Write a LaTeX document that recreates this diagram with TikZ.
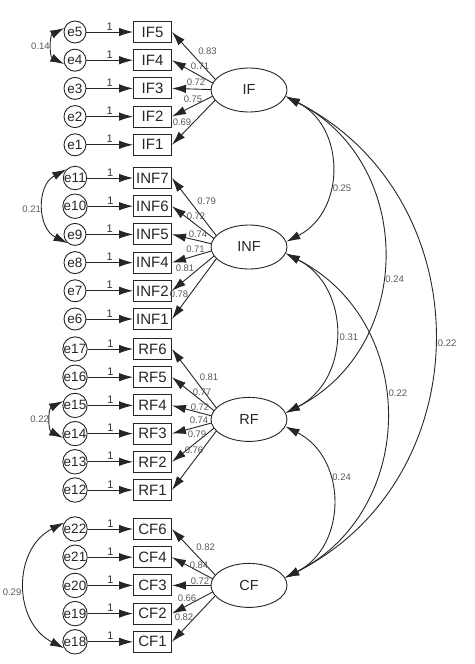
\documentclass[tikz,border=0pt]{standalone}
\usepackage{fontspec}
\setmainfont{Liberation Sans}
\usetikzlibrary{shapes.geometric, arrows.meta}

\begin{document}
\begin{tikzpicture}[x=1pt, y=1pt, node distance=28.2pt]
\tikzstyle{item} = [rectangle, minimum width=38pt, minimum height=21pt, inner sep=0pt, draw=black!85, line width=0.9pt, text=black!85, font=\fontsize{15}{15}\selectfont]
\tikzstyle{err} = [circle, minimum size=22pt, inner sep=0pt, draw=black!85, line width=0.9pt, text=black!85, font=\fontsize{13.5}{13.5}\selectfont]
\tikzstyle{factor} = [ellipse, minimum width=76pt, minimum height=44pt, inner sep=0pt, draw=black!85, fill=white, line width=0.9pt, text=black!85, font=\fontsize{14.5}{14.5}\selectfont]
\tikzstyle{arrow} = [line width=0.9pt, black!85, ->, >={Latex[length=14pt,width=8.5pt]}]
\tikzstyle{cov} = [line width=0.9pt, black!85, <->, >={Latex[length=14pt,width=8.5pt]}, looseness=1.18]
\tikzstyle{one} = [above, inner sep=1.5pt, text=black!80, font=\fontsize{11}{11}\selectfont]
\tikzstyle{coef} = [inner sep=0pt, text=black!65, font=\fontsize{9.5}{9.5}\selectfont]

\useasboundingbox (0,0) rectangle (474,-664);

%indicators
\node (IF5) [item] at (152.5,-32) {IF5};
\node (IF4) [item, below of=IF5] {IF4};
\node (IF3) [item, below of=IF4] {IF3};
\node (IF2) [item, below of=IF3] {IF2};
\node (IF1) [item, below of=IF2] {IF1};
\node (INF7) [item, below of=IF1, yshift=-5pt] {INF7};
\node (INF6) [item, below of=INF7] {INF6};
\node (INF5) [item, below of=INF6] {INF5};
\node (INF4) [item, below of=INF5] {INF4};
\node (INF2) [item, below of=INF4] {INF2};
\node (INF1) [item, below of=INF2] {INF1};
\node (RF6) [item, below of=INF1, yshift=-1.8pt] {RF6};
\node (RF5) [item, below of=RF6] {RF5};
\node (RF4) [item, below of=RF5] {RF4};
\node (RF3) [item, below of=RF4] {RF3};
\node (RF2) [item, below of=RF3] {RF2};
\node (RF1) [item, below of=RF2] {RF1};
\node (CF6) [item, below of=RF1, yshift=-10.8pt] {CF6};
\node (CF4) [item, below of=CF6] {CF4};
\node (CF3) [item, below of=CF4] {CF3};
\node (CF2) [item, below of=CF3] {CF2};
\node (CF1) [item, below of=CF2] {CF1};

%errors
\node (e5) [err, left of=IF5, xshift=-49.3pt] {e5};
\node (e4) [err, left of=IF4, xshift=-49.3pt] {e4};
\node (e3) [err, left of=IF3, xshift=-49.3pt] {e3};
\node (e2) [err, left of=IF2, xshift=-49.3pt] {e2};
\node (e1) [err, left of=IF1, xshift=-49.3pt] {e1};
\node (e11) [err, left of=INF7, xshift=-49.3pt] {e11};
\node (e10) [err, left of=INF6, xshift=-49.3pt] {e10};
\node (e9) [err, left of=INF5, xshift=-49.3pt] {e9};
\node (e8) [err, left of=INF4, xshift=-49.3pt] {e8};
\node (e7) [err, left of=INF2, xshift=-49.3pt] {e7};
\node (e6) [err, left of=INF1, xshift=-49.3pt] {e6};
\node (e17) [err, left of=RF6, xshift=-49.3pt] {e17};
\node (e16) [err, left of=RF5, xshift=-49.3pt] {e16};
\node (e15) [err, left of=RF4, xshift=-49.3pt] {e15};
\node (e14) [err, left of=RF3, xshift=-49.3pt] {e14};
\node (e13) [err, left of=RF2, xshift=-49.3pt] {e13};
\node (e12) [err, left of=RF1, xshift=-49.3pt] {e12};
\node (e22) [err, left of=CF6, xshift=-49.3pt] {e22};
\node (e21) [err, left of=CF4, xshift=-49.3pt] {e21};
\node (e20) [err, left of=CF3, xshift=-49.3pt] {e20};
\node (e19) [err, left of=CF2, xshift=-49.3pt] {e19};
\node (e18) [err, left of=CF1, xshift=-49.3pt] {e18};

%hubs inside the factors
\node (IFhub) [coordinate, right of=IF3, xshift=44.3pt, yshift=-1.6pt] {};
\node (INFhub) [coordinate, right of=INF5, xshift=44.3pt, yshift=-12.6pt] {};
\node (RFhub) [coordinate, right of=RF4, xshift=44.3pt, yshift=-14pt] {};
\node (CFhub) [coordinate, right of=CF3, xshift=44.3pt] {};

%loadings
\draw [arrow] (IFhub) -- (IF5.east);
\draw [arrow] (IFhub) -- (IF4.east);
\draw [arrow] (IFhub) -- (IF3.east);
\draw [arrow] (IFhub) -- (IF2.east);
\draw [arrow] (IFhub) -- (IF1.east);
\draw [arrow] (INFhub) -- (INF7.east);
\draw [arrow] (INFhub) -- (INF6.east);
\draw [arrow] (INFhub) -- (INF5.east);
\draw [arrow] (INFhub) -- (INF4.east);
\draw [arrow] (INFhub) -- (INF2.east);
\draw [arrow] (INFhub) -- (INF1.east);
\draw [arrow] (RFhub) -- (RF6.east);
\draw [arrow] (RFhub) -- (RF5.east);
\draw [arrow] (RFhub) -- (RF4.east);
\draw [arrow] (RFhub) -- (RF3.east);
\draw [arrow] (RFhub) -- (RF2.east);
\draw [arrow] (RFhub) -- (RF1.east);
\draw [arrow] (CFhub) -- (CF6.east);
\draw [arrow] (CFhub) -- (CF4.east);
\draw [arrow] (CFhub) -- (CF3.east);
\draw [arrow] (CFhub) -- (CF2.east);
\draw [arrow] (CFhub) -- (CF1.east);

%factors
\node (IF) [factor, right of=IF3, xshift=68.3pt, yshift=-1.6pt] {IF};
\node (INF) [factor, right of=INF5, xshift=68.3pt, yshift=-12.6pt] {INF};
\node (RF) [factor, right of=RF4, xshift=68.3pt, yshift=-14pt] {RF};
\node (CF) [factor, right of=CF3, xshift=68.3pt] {CF};

%loading values
\node (vIF5) [coef] at (207.5,-51.7) {0.83};
\node (vIF4) [coef] at (200,-66.7) {0.71};
\node (vIF3) [coef] at (196,-82) {0.72};
\node (vIF2) [coef] at (193,-99) {0.75};
\node (vIF1) [coef] at (182,-122) {0.69};
\node (vINF7) [coef] at (206.7,-201.7) {0.79};
\node (vINF6) [coef] at (196,-216) {0.72};
\node (vINF5) [coef] at (198,-234) {0.74};
\node (vINF4) [coef] at (195.5,-249) {0.71};
\node (vINF2) [coef] at (185,-268) {0.81};
\node (vINF1) [coef] at (179,-294) {0.78};
\node (vRF6) [coef] at (209,-377) {0.81};
\node (vRF5) [coef] at (202,-392) {0.77};
\node (vRF4) [coef] at (200,-407) {0.72};
\node (vRF3) [coef] at (199,-420) {0.74};
\node (vRF2) [coef] at (197,-434) {0.79};
\node (vRF1) [coef] at (194,-450) {0.76};
\node (vCF6) [coef] at (205.7,-547) {0.82};
\node (vCF4) [coef] at (199,-565) {0.84};
\node (vCF3) [coef] at (200,-581) {0.72};
\node (vCF2) [coef] at (187,-598) {0.66};
\node (vCF1) [coef] at (184,-617) {0.82};

%error arrows
\draw [arrow] (e5) -- node[one] {1} (IF5);
\draw [arrow] (e4) -- node[one] {1} (IF4);
\draw [arrow] (e3) -- node[one] {1} (IF3);
\draw [arrow] (e2) -- node[one] {1} (IF2);
\draw [arrow] (e1) -- node[one] {1} (IF1);
\draw [arrow] (e11) -- node[one] {1} (INF7);
\draw [arrow] (e10) -- node[one] {1} (INF6);
\draw [arrow] (e9) -- node[one] {1} (INF5);
\draw [arrow] (e8) -- node[one] {1} (INF4);
\draw [arrow] (e7) -- node[one] {1} (INF2);
\draw [arrow] (e6) -- node[one] {1} (INF1);
\draw [arrow] (e17) -- node[one] {1} (RF6);
\draw [arrow] (e16) -- node[one] {1} (RF5);
\draw [arrow] (e15) -- node[one] {1} (RF4);
\draw [arrow] (e14) -- node[one] {1} (RF3);
\draw [arrow] (e13) -- node[one] {1} (RF2);
\draw [arrow] (e12) -- node[one] {1} (RF1);
\draw [arrow] (e22) -- node[one] {1} (CF6);
\draw [arrow] (e21) -- node[one] {1} (CF4);
\draw [arrow] (e20) -- node[one] {1} (CF3);
\draw [arrow] (e19) -- node[one] {1} (CF2);
\draw [arrow] (e18) -- node[one] {1} (CF1);

%error covariances
\draw [cov] (e5.160) to[bend right=63] node[coef, left=3pt] {0.14} (e4.200);
\draw [cov] (e11.135) to[bend right=63] node[coef, pos=0.525, left=3pt] {0.21} (e9.230);
\draw [cov] (e15.160) to[bend right=63] node[coef, left=2.5pt] {0.22} (e14.200);
\draw [cov] (e22.150) to[bend right=63] node[coef, pos=0.545, left=4pt] {0.29} (e18.210);

%factor covariances
\draw [cov] (IF.-10) to[bend left=63] node[coef, pos=0.61, right=3.5pt] {0.25} (INF.8);
\draw [cov] (IF.-10) to[bend left=63] node[coef, pos=0.565, right=3.5pt] {0.24} (RF.10);
\draw [cov] (IF.-10) to[bend left=63] node[coef, pos=0.51, right=4pt] {0.22} (CF.12);
\draw [cov] (INF.-10) to[bend left=63] node[coef, pos=0.52, right=4.5pt] {0.31} (RF.10);
\draw [cov] (INF.-10) to[bend left=63] node[coef, pos=0.44, right=4pt] {0.22} (CF.12);
\draw [cov] (RF.-11) to[bend left=63] node[coef, pos=0.36, right=3.5pt] {0.24} (CF.12);
\end{tikzpicture}
\end{document}
